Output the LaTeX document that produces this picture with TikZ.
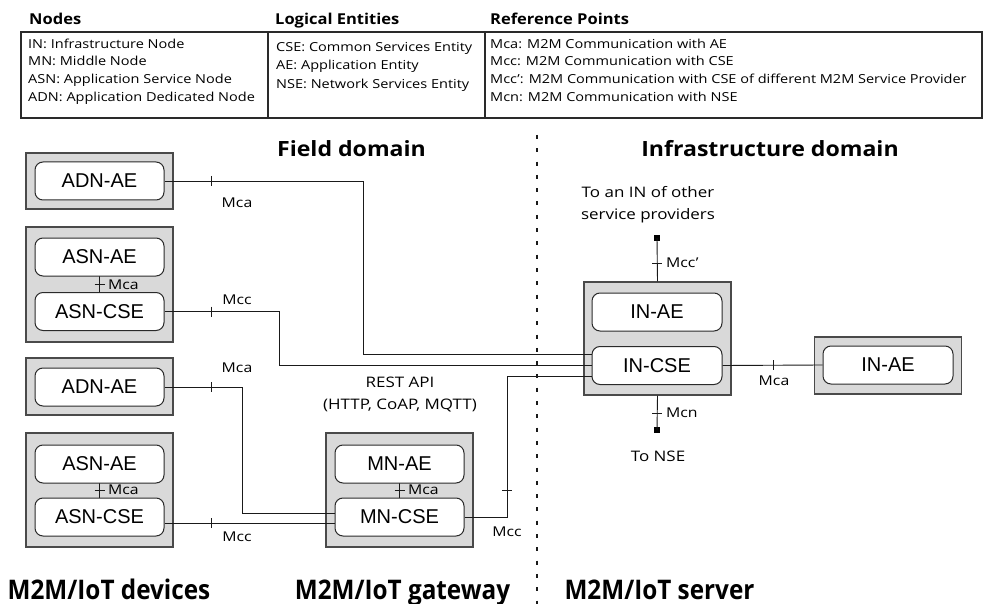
\documentclass[tikz,border=0pt]{standalone}
\usepackage{fontspec}
\setmainfont{Liberation Sans}
\newfontfamily\lblfont[FakeStretch=1.17]{Open Sans}
\newfontfamily\headfont[FakeStretch=1.1]{Open Sans}
\newfontfamily\tierfont[FakeStretch=0.9]{Open Sans}
\definecolor{boxgray}{HTML}{D9D9D9}
\definecolor{boxline}{HTML}{4A4A4A}
\definecolor{entline}{HTML}{2A2A2A}
\definecolor{wirecol}{HTML}{1A1A1A}
\begin{document}
\begin{tikzpicture}[x=1pt,y=-1pt,
  box/.style={draw=boxline, fill=boxgray, line width=1.1pt, minimum width=147pt, inner sep=0pt},
  ent/.style={draw=entline, fill=white, rounded corners=8pt, line width=1pt,
              minimum width=129pt, minimum height=38pt, inner sep=0pt,
              font=\fontsize{20}{24}\selectfont},
  wire/.style={draw=wirecol, line width=0.9pt},
  reflbl/.style={font=\lblfont\fontsize{13.5}{15}\selectfont, inner sep=0pt},
  note/.style={font=\lblfont\fontsize{14.5}{22}\selectfont, inner sep=0pt, align=center},
  tbltext/.style={font=\lblfont\fontsize{12.4}{15}\selectfont, inner sep=0pt, anchor=base west},
  tblhead/.style={font=\headfont\bfseries\fontsize{15}{18}\selectfont, inner sep=0pt, anchor=base west},
  domainlbl/.style={font=\headfont\bfseries\fontsize{21}{25}\selectfont, inner sep=0pt, anchor=base},
  tier/.style={font=\tierfont\bfseries\fontsize{27}{30}\selectfont, inner sep=0pt, anchor=base},
  endsq/.style={fill=black, minimum size=6pt, inner sep=0pt}
]
\useasboundingbox (0,0) rectangle (985,604);

% ---------- legend table ----------
\node[tblhead] (hnodes) at (29,25) {Nodes};
\node[tblhead] (hlog) at (275,25) {Logical Entities};
\node[tblhead] (href) at (490,25) {Reference Points};
\draw[draw=entline, line width=1.1pt] (21,32) rectangle (982,118);
\draw[draw=entline, line width=1.1pt] (268,32) -- (268,118);
\draw[draw=entline, line width=1.1pt] (485,32) -- (485,118);

\node[tbltext] (t11) at (28,48.3) {IN: Infrastructure Node};
\node[tbltext] (t12) at (28,65.5) {MN: Middle Node};
\node[tbltext] (t13) at (28,83.3) {ASN: Application Service Node};
\node[tbltext] (t14) at (28,101.5) {ADN: Application Dedicated Node};
\node[tbltext] (t21) at (276,51.7) {CSE: Common Services Entity};
\node[tbltext] (t22) at (276,70) {AE: Application Entity};
\node[tbltext] (t23) at (276,88.3) {NSE: Network Services Entity};
\node[tbltext] (t31) at (490,48.3) {Mca: M2M Communication with AE};
\node[tbltext] (t32) at (490,65.5) {Mcc: M2M Communication with CSE};
\node[tbltext] (t33) at (490,83.3) {Mcc’: M2M Communication with CSE of different M2M Service Provider};
\node[tbltext] (t34) at (490,101.5) {Mcn: M2M Communication with NSE};

% ---------- domain split ----------
\draw[draw=wirecol, line width=2.8pt, dash pattern=on 4pt off 9.3pt] (537,135) -- (537,604);
\node[domainlbl] (fd) at (351.5,157) {Field domain};
\node[domainlbl] (idm) at (770,157) {Infrastructure domain};

% ---------- node boxes ----------
\node[box, minimum height=56pt]  (adnbox1) at (99.5,181) {};
\node[box, minimum height=115pt] (asnbox1) at (99.5,284.5) {};
\node[box, minimum height=57pt]  (adnbox2) at (99.5,386.5) {};
\node[box, minimum height=114pt] (asnbox2) at (99.5,490) {};
\node[box, minimum height=114pt] (mnbox)   at (399.5,490) {};
\node[box, minimum height=113pt] (inbox)   at (657.5,338.5) {};
\node[box, minimum height=57pt]  (inbox2)  at (888,365.5) {};

% ---------- links inside the nodes ----------
\draw[wire] (asnbox1.center |- 0,276) -- (asnbox1.center |- 0,293);
\draw[wire] (asnbox2.center |- 0,483) -- (asnbox2.center |- 0,498);
\draw[wire] (mnbox.center |- 0,483) -- (mnbox.center |- 0,498);

% ---------- entities ----------
\node[ent] (adnae1)  at (99.5,181) {ADN-AE};
\node[ent] (asnae1)  at (99.5,257) {ASN-AE};
\node[ent] (asncse1) at (99.5,311.5) {ASN-CSE};
\node[ent] (adnae2)  at (99.5,387) {ADN-AE};
\node[ent] (asnae2)  at (99.5,464) {ASN-AE};
\node[ent] (asncse2) at (99.5,517) {ASN-CSE};
\node[ent] (mnae)    at (399.5,464) {MN-AE};
\node[ent] (mncse)   at (399.5,517) {MN-CSE};
\node[ent, minimum width=130pt] (inae)  at (657,312) {IN-AE};
\node[ent, minimum width=130pt] (incse) at (657,365.5) {IN-CSE};
\node[ent, minimum width=130pt] (inae2) at (888,365) {IN-AE};

\node[endsq] (sqtop) at (657,238) {};
\node[endsq] (sqbot) at (657,430) {};

\draw[wire] (adnae1.east) -| (363,354) -- (incse.west |- 0,354);
\draw[wire] (asncse1.east) -| (279,365) -- (incse.west |- 0,365);
\draw[wire] (mncse.east) -| (507,376) -- (incse.west |- 0,376);
\draw[wire] (adnae2.east) -| (242,513) -- (mncse.west |- 0,513);
\draw[wire] (asncse2.east |- 0,523) -- (mncse.west |- 0,523);
\draw[wire] (incse.east) -- (inae2.west);
\draw[wire] (inbox.north) -- (sqtop.center);
\draw[wire] (inbox.south) -- (sqbot.center);

% ---------- reference point ticks ----------
\foreach \x/\y in {211/181, 211/311.5, 211/387, 211/523, 773/365}
  \draw[wire] (\x,\y-5) -- (\x,\y+5);
\foreach \x/\y in {99.5/284.5, 99.5/490, 399.5/490, 507/490, 657/263, 657/413}
  \draw[wire] (\x-5,\y) -- (\x+5,\y);

% ---------- reference point labels ----------
\node[reflbl] (l1) at (237,203) {Mca};
\node[reflbl] (l2) at (237,300) {Mcc};
\node[reflbl] (l3) at (237,368) {Mca};
\node[reflbl] (l4) at (237,537) {Mcc};
\node[reflbl, anchor=west] (l5) at (108,284.5) {Mca};
\node[reflbl, anchor=west] (l6) at (108,490) {Mca};
\node[reflbl, anchor=west] (l7) at (408,490) {Mca};
\node[reflbl] (l8) at (507,532) {Mcc};
\node[reflbl] (l9) at (774,381) {Mca};
\node[reflbl, anchor=west] (l10) at (666,263) {Mcc’};
\node[reflbl, anchor=west] (l11) at (666,413) {Mcn};

% ---------- notes ----------
\node[note] (rest) at (400,394) {REST API\\(HTTP, CoAP, MQTT)};
\node[note] (toin) at (648,205) {To an IN of other\\service providers};
\node[note] (tonse) at (658,456) {To NSE};

% ---------- tiers ----------
\node[tier] (tdev) at (109,599) {M2M/IoT devices};
\node[tier] (tgw)  at (402.5,599) {M2M/IoT gateway};
\node[tier] (tsrv) at (659.5,599) {M2M/IoT server};
\end{tikzpicture}
\end{document}
